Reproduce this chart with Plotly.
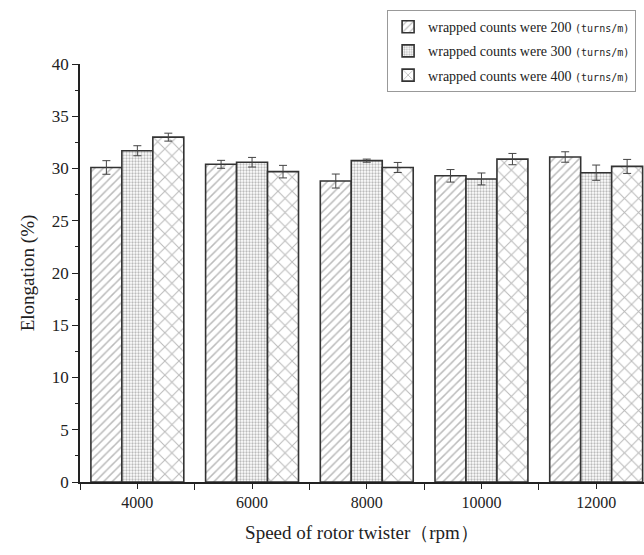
import plotly.graph_objects as go

categories = ["4000", "6000", "8000", "10000", "12000"]
series_names = ["200", "300", "400"]
vals_200 = [30.1, 30.4, 28.8, 29.3, 31.1]
vals_300 = [31.7, 30.6, 30.75, 29.0, 29.6]
vals_400 = [33.0, 29.7, 30.1, 30.9, 30.2]
err_200 = [0.65, 0.38, 0.67, 0.6, 0.5]
err_300 = [0.48, 0.46, 0.15, 0.57, 0.73]
err_400 = [0.38, 0.6, 0.48, 0.54, 0.67]
patterns = ["/", ".", "x"]
pat_sizes = [6, 3, 10]
pat_solidity = [0.25, 0.45, 0.2]

xpos = list(range(len(categories)))
fig = go.Figure()
for name, v, e, pat, ps, sol in zip(series_names, [vals_200, vals_300, vals_400],
                                    [err_200, err_300, err_400], patterns,
                                    pat_sizes, pat_solidity):
    fig.add_trace(go.Bar(
        x=xpos, y=v,
        name=("wrapped counts were " + name +
              " <span style='font-family:DejaVu Sans Mono;font-size:10px'>(turns/m)</span>"),
        legendgroup=name,
        marker=dict(color="white",
                    line=dict(color="#333333", width=1.6),
                    pattern=dict(shape=pat, fgcolor="#777777", bgcolor="white",
                                 size=ps, solidity=sol)),
        error_y=dict(type="data", array=e, visible=True, color="#444444", thickness=1, width=4),
    ))

fig.update_layout(
    width=644, height=555,
    margin=dict(l=80, r=0, t=64, b=73),
    paper_bgcolor="white", plot_bgcolor="white",
    barmode="group", bargap=0.19, bargroupgap=0,
    font=dict(family="Liberation Serif", size=16, color="#222222"),
    showlegend=True,
    legend=dict(x=0.986, y=1.129, xanchor="right", yanchor="top",
                bordercolor="#999999", borderwidth=1, bgcolor="white",
                font=dict(family="Liberation Serif", size=14, color="#222222"),
                tracegroupgap=3, itemwidth=30),
)
fig.update_xaxes(
    range=[-0.5, 4.417], tickvals=xpos, ticktext=categories,
    showline=True, linecolor="#222222", linewidth=1.5, mirror=False,
    ticks="outside", ticklen=5, tickcolor="#222222", showgrid=False, zeroline=False,
    minor=dict(tick0=0.5, dtick=1, ticks="outside", ticklen=6, tickcolor="#222222", showgrid=False),
    title=dict(text="Speed of rotor twister（rpm）", standoff=16),
)
fig.update_yaxes(
    range=[0, 40], dtick=5, tick0=0,
    showline=True, linecolor="#222222", linewidth=1.5,
    ticks="outside", ticklen=6, tickcolor="#222222", showgrid=False, zeroline=False,
    minor=dict(dtick=2.5, ticks="outside", ticklen=3, tickcolor="#222222", showgrid=False),
    title=dict(text="Elongation (%)", standoff=12),
    tickfont=dict(size=17),
)
fig.write_html("out.html")
